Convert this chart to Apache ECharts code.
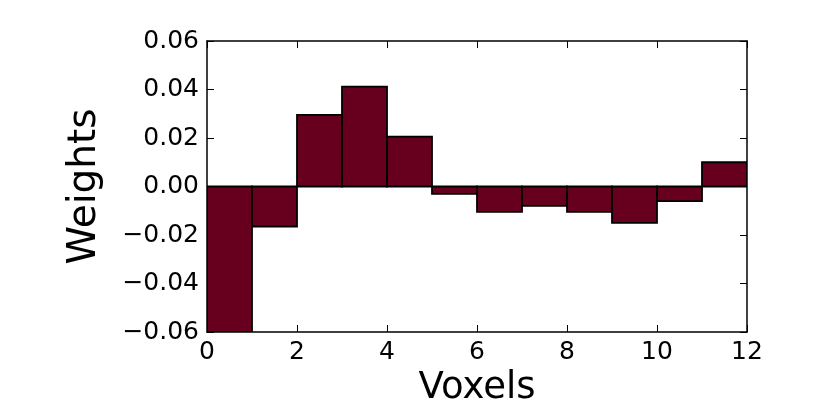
<!DOCTYPE html>
<html>
<head>
<meta charset="utf-8">
<script src="https://cdn.jsdelivr.net/npm/echarts@6/dist/echarts.min.js"></script>
<style>html,body{margin:0;padding:0;background:#fff;}#c{width:830px;height:415px;}</style>
</head>
<body>
<div id="c"></div>
<script>
var voxelStarts = [0, 1, 2, 3, 4, 5, 6, 7, 8, 9, 10, 11];
var weights = [-0.0605, -0.0165, 0.0295, 0.0412, 0.0206, -0.003, -0.0105, -0.008, -0.0105, -0.015, -0.006, 0.010];
var binWidth = 1;
var xTicks = { min: 0, max: 12, interval: 2 };
var yTicks = { min: -0.06, max: 0.06, interval: 0.02 };

var FONT = 'DejaVu Sans';
function fmtY(v) {
  var s = Math.abs(v).toFixed(2);
  return (v < -1e-9 ? '\u2212' : '') + s;
}
var chart = echarts.init(document.getElementById('c'), null, { renderer: 'canvas' });
var data = voxelStarts.map(function (x, i) { return [x, weights[i]]; });
var tickStyle = { show: true, inside: true, length: 7, lineStyle: { color: '#000', width: 1 } };
var lineStyle = { show: true, onZero: false, lineStyle: { color: '#000', width: 1.5 } };
chart.setOption({
  animation: false,
  backgroundColor: '#fff',
  grid: { left: 207, right: 83, top: 41, bottom: 83, containLabel: false },
  xAxis: [{
    type: 'value', min: xTicks.min, max: xTicks.max, interval: xTicks.interval,
    position: 'bottom',
    axisLine: lineStyle, axisTick: tickStyle, splitLine: { show: false },
    axisLabel: { color: '#000', fontFamily: FONT, fontSize: 25, margin: 8 },
    name: 'Voxels', nameLocation: 'middle', nameGap: 36,
    nameTextStyle: { color: '#000', fontFamily: FONT, fontSize: 37 }
  }, {
    type: 'value', min: xTicks.min, max: xTicks.max, interval: xTicks.interval,
    position: 'top',
    axisLine: lineStyle, axisTick: tickStyle, splitLine: { show: false },
    axisLabel: { show: false }
  }],
  yAxis: [{
    type: 'value', min: yTicks.min, max: yTicks.max, interval: yTicks.interval,
    position: 'left',
    axisLine: lineStyle, axisTick: tickStyle, splitLine: { show: false },
    axisLabel: { color: '#000', fontFamily: FONT, fontSize: 25, margin: 8, formatter: fmtY },
    name: 'Weights', nameLocation: 'middle', nameGap: 103, nameRotate: 90,
    nameTextStyle: { color: '#000', fontFamily: FONT, fontSize: 39 }
  }, {
    type: 'value', min: yTicks.min, max: yTicks.max, interval: yTicks.interval,
    position: 'right',
    axisLine: lineStyle, axisTick: tickStyle, splitLine: { show: false },
    axisLabel: { show: false }
  }],
  series: [{
    type: 'custom',
    xAxisIndex: 0, yAxisIndex: 0,
    clip: true,
    data: data,
    renderItem: function (params, api) {
      var x0 = api.value(0), v = api.value(1);
      var p0 = api.coord([x0, 0]);
      var p1 = api.coord([x0 + binWidth, v]);
      var cs = params.coordSys;
      var rect = echarts.graphic.clipRectByRect({
        x: p0[0], y: Math.min(p0[1], p1[1]),
        width: p1[0] - p0[0], height: Math.abs(p1[1] - p0[1])
      }, { x: cs.x, y: cs.y, width: cs.width, height: cs.height });
      return rect && {
        type: 'rect', shape: rect,
        style: { fill: '#67001f', stroke: '#000', lineWidth: 1.8 }
      };
    }
  }]
});
</script>
</body>
</html>
